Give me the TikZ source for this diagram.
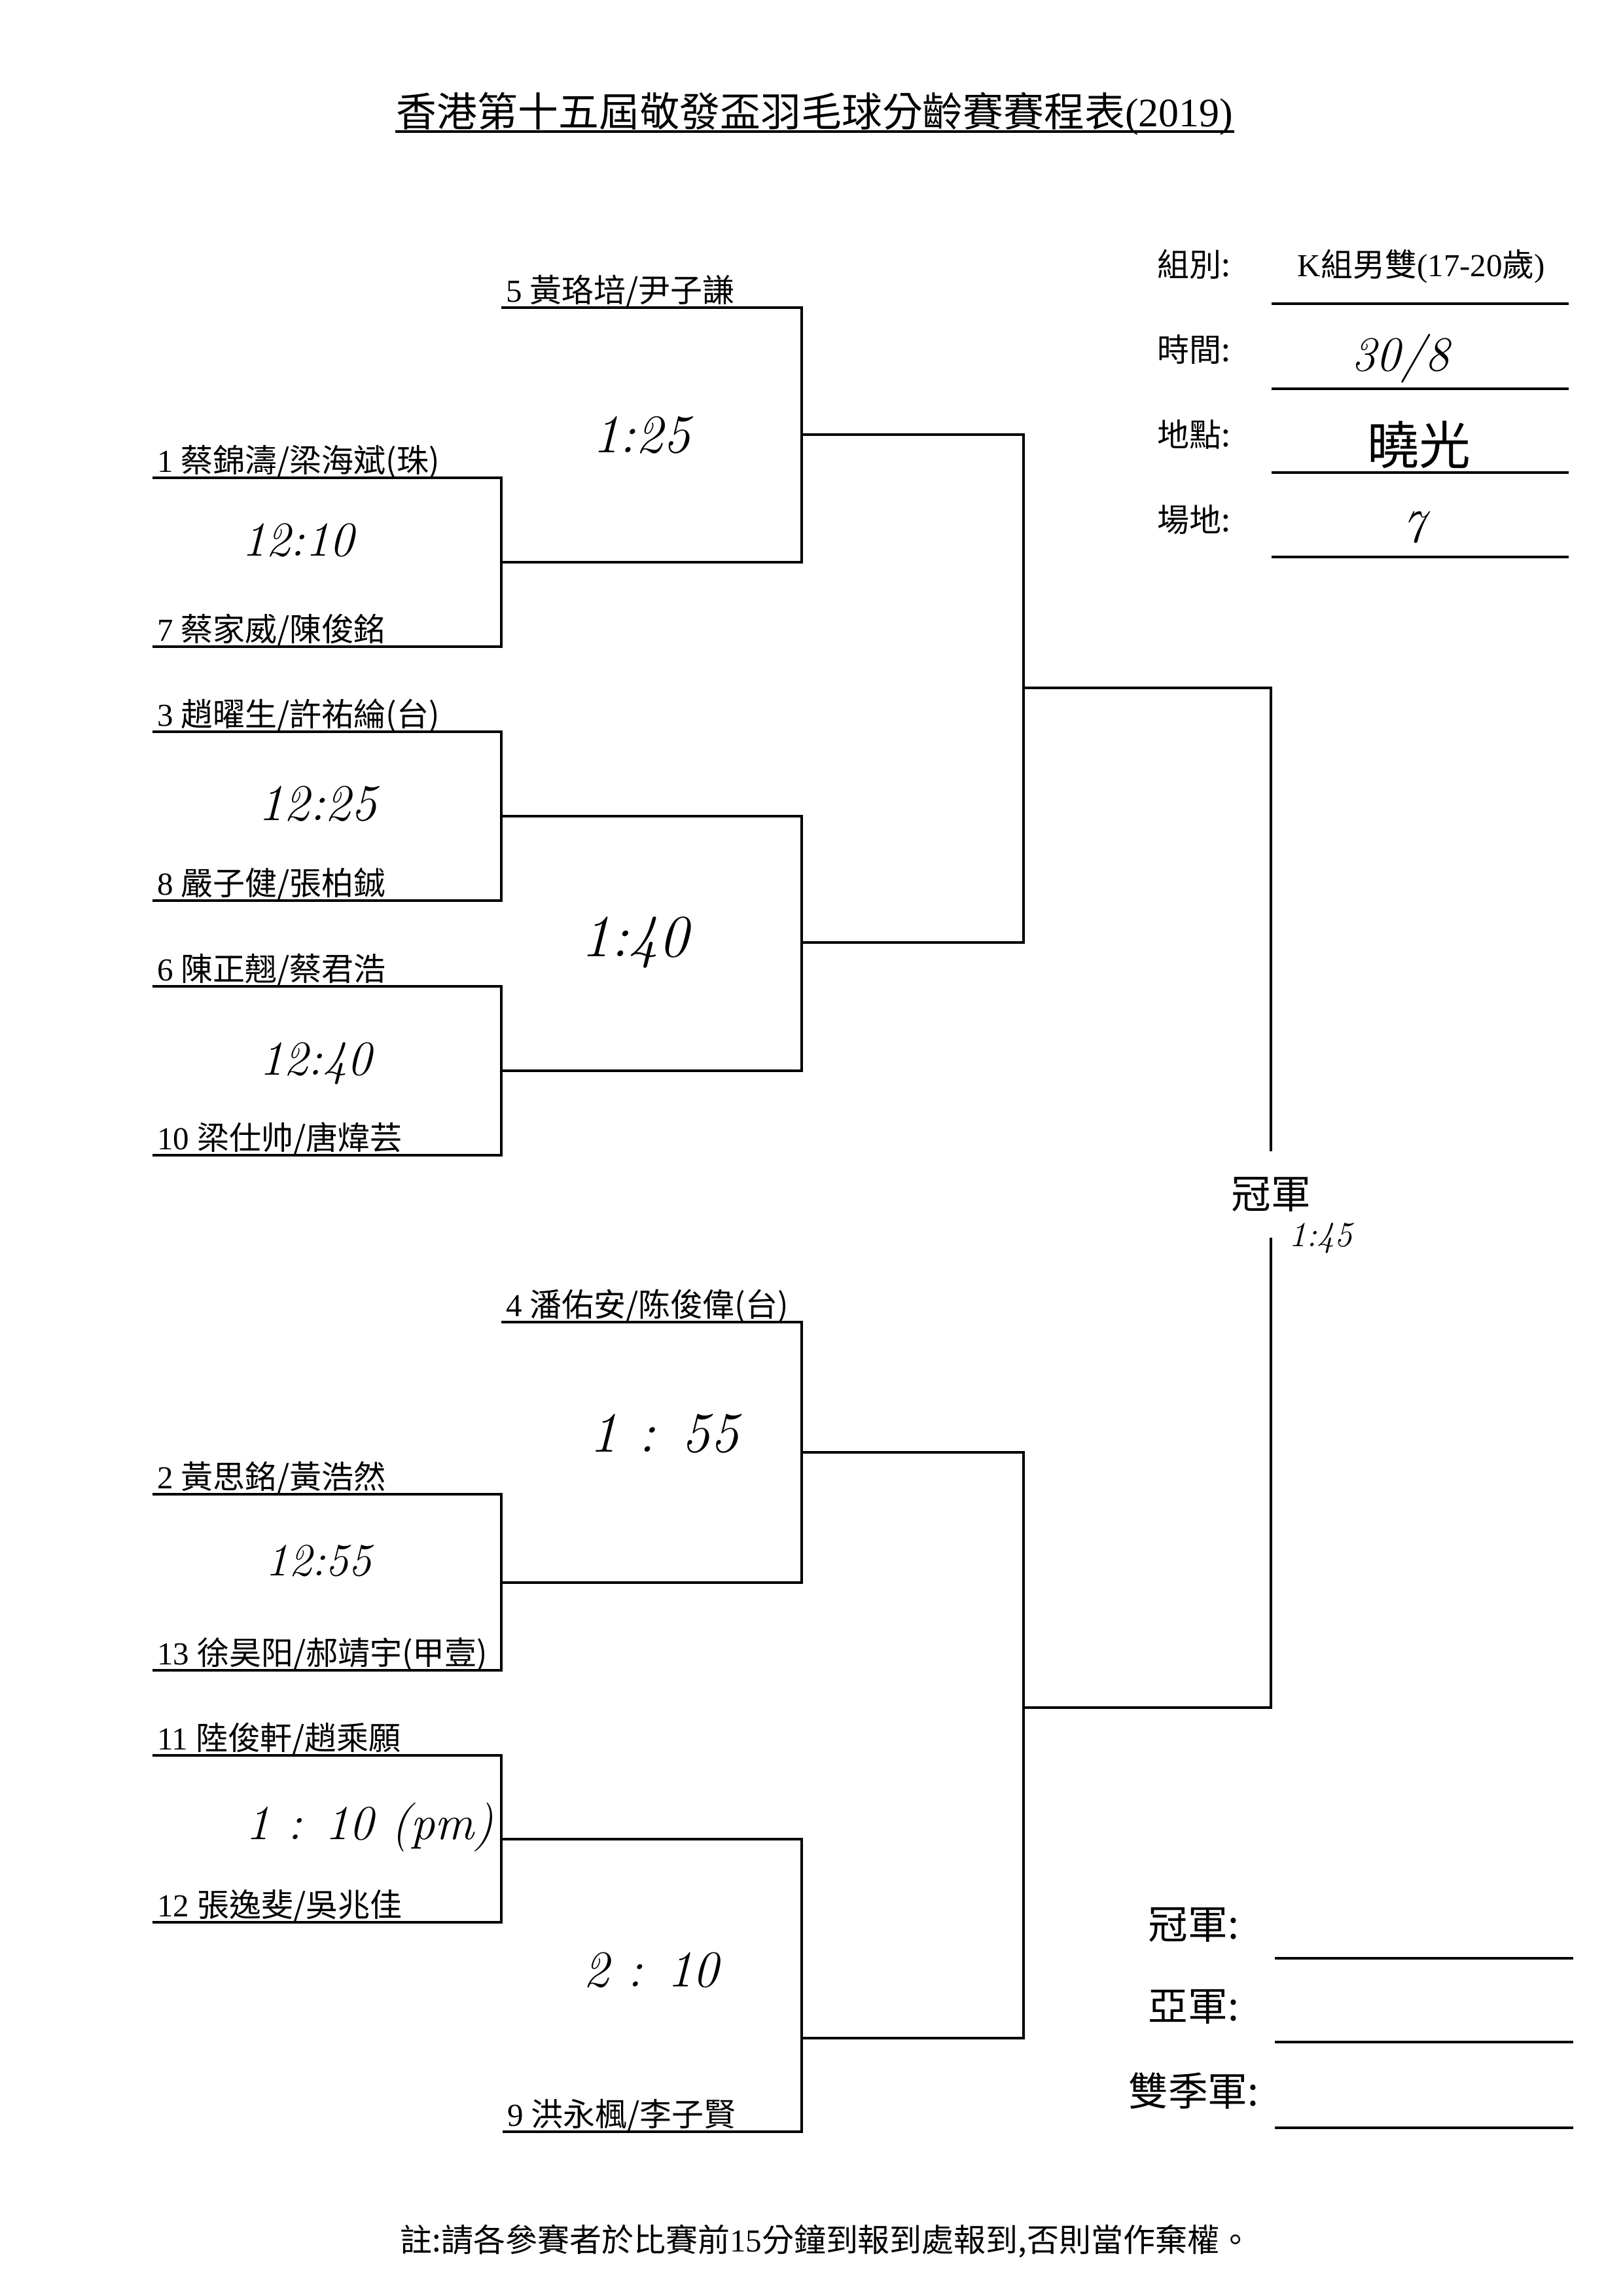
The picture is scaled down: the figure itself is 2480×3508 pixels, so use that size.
\documentclass[tikz,border=0pt]{standalone}
\usepackage{fontspec}
\setmainfont{Noto Sans CJK TC}
\newfontfamily\lat{Liberation Serif}
\newfontfamily\hand{Latin Modern Roman}[Numbers=Lining]
\begin{document}
\begin{tikzpicture}[x=0.0846667mm,y=-0.0846667mm,line width=1pt,line join=miter,
  player/.style={anchor=base west,inner sep=0pt,font=\fontsize{11.8pt}{14pt}\selectfont},
  infolab/.style={anchor=base west,inner sep=0pt,font=\fontsize{11.8pt}{14pt}\selectfont},
  prize/.style={anchor=base,inner sep=0pt,font=\fontsize{14.6pt}{17pt}\selectfont},
  hand/.style={inner sep=0pt,font=\hand\itshape\fontsize{#1}{#1}\selectfont},
  hand/.default=19pt]
\useasboundingbox (0,0) rectangle (2480,3508);
% title
\node[anchor=base,inner sep=0pt,font=\fontsize{14.9pt}{18pt}\selectfont] (title) at (1245,193) {香港第十五屆敬發盃羽毛球分齡賽賽程表{\lat (2019)}};
\coordinate (ul) at (0,201);
\draw[line width=0.8pt] (title.west |- ul) -- (title.east |- ul);
% players
\coordinate (p5) at (766,470);
\coordinate (p1) at (233,730);
\coordinate (p7) at (233,988);
\coordinate (p3) at (233,1118);
\coordinate (p8) at (233,1376);
\coordinate (p6) at (233,1507);
\coordinate (p10) at (233,1765);
\coordinate (p4) at (766,2020);
\coordinate (p2) at (233,2283);
\coordinate (p13) at (233,2552);
\coordinate (p11) at (233,2682);
\coordinate (p12) at (233,2937);
\coordinate (p9) at (768,3257);
\node[player] (n5) at (771,461) {{\lat 5 }黃珞培/尹子謙};
\node[player] (n1) at (238,721) {{\lat 1 }蔡錦濤/梁海斌(珠)};
\node[player] (n7) at (238,979) {{\lat 7 }蔡家威/陳俊銘};
\node[player] (n3) at (238,1109) {{\lat 3 }趙曜生/許祐綸(台)};
\node[player] (n8) at (238,1367) {{\lat 8 }嚴子健/張柏鋮};
\node[player] (n6) at (238,1498) {{\lat 6 }陳正翹/蔡君浩};
\node[player] (n10) at (238,1756) {{\lat 10 }梁仕帅/唐煒芸};
\node[player] (n4) at (771,2011) {{\lat 4 }潘佑安/陈俊偉(台)};
\node[player] (n2) at (238,2274) {{\lat 2 }黃思銘/黃浩然};
\node[player] (n13) at (238,2543) {{\lat 13 }徐昊阳/郝靖宇(甲壹)};
\node[player] (n11) at (238,2673) {{\lat 11 }陸俊軒/趙乘願};
\node[player] (n12) at (238,2928) {{\lat 12 }張逸斐/吳兆佳};
\node[player] (n9) at (773,3248) {{\lat 9 }洪永楓/李子賢};
% first round
\coordinate (w17) at (766,859);
\coordinate (w38) at (766,1247);
\coordinate (w610) at (766,1636);
\coordinate (w213) at (766,2418);
\coordinate (w1112) at (766,2810);
\draw (p1) -| (w17) |- (p7);
\draw (p3) -| (w38) |- (p8);
\draw (p6) -| (w610) |- (p10);
\draw (p2) -| (w213) |- (p13);
\draw (p11) -| (w1112) |- (p12);
% second round
\coordinate (r1) at (1225,664);
\coordinate (r2) at (1225,1440);
\coordinate (r3) at (1225,2219);
\coordinate (r4) at (1225,3114);
\draw (p5) -| (r1) |- (w17);
\draw (w38) -| (r2) |- (w610);
\draw (p4) -| (r3) |- (w213);
\draw (w1112) -| (r4) |- (p9);
% semi final and final
\coordinate (s1) at (1564,1051);
\coordinate (s2) at (1564,2609);
\draw (r1) -| (s1) |- (r2);
\draw (r3) -| (s2) |- (r4);
\node[inner xsep=0pt,inner ysep=9pt,font=\fontsize{14.6pt}{17pt}\selectfont] (champ) at (1942,1825) {冠軍};
\draw (s1) -| (champ.north);
\draw (champ.south) |- (s2);
% handwritten times
\node[hand=20pt] (t1) at (980,665) {1:25};
\node[hand=18pt] (t2) at (455,825) {12:10};
\node[hand] (t3) at (485,1228) {12:25};
\node[hand=22pt] (t4) at (970,1440) {1:40};
\node[hand=18pt] (t5) at (482,1625) {12:40};
\node[hand=21pt] (t6) at (1015,2190) {1 : 55};
\node[hand=17pt] (t7) at (487,2385) {12:55};
\node[hand=18pt] (t8) at (565,2792) {1 : 10 (pm)};
\node[hand] (t9) at (995,3010) {2 : 10};
\node[hand=13pt] (t10) at (2018,1892) {1:45};
% info
\node[infolab] (lgroup) at (1766,422) {組別:};
\node[infolab] (ltime) at (1766,552) {時間:};
\node[infolab] (lplace) at (1766,682) {地點:};
\node[infolab] (lcourt) at (1766,812) {場地:};
\node[infolab,anchor=base] (vgroup) at (2172,422) {{\lat K}組男雙{\lat (17-20}歲{\lat )}};
\node[hand=18pt] (vtime) at (2140,548) {30/8};
\node[inner sep=0pt,font=\fontsize{19pt}{19pt}\selectfont] (vplace) at (2168,680) {曉光};
\node[hand=17pt] (vcourt) at (2160,806) {7};
\foreach \y in {464,594,722,851}
  \draw (1943,\y) -- (2397,\y);
% results
\node[prize] (first) at (1824,2962) {冠軍:};
\node[prize] (second) at (1824,3087) {亞軍:};
\node[prize] (third) at (1824,3217) {雙季軍:};
\foreach \y in {2992,3120,3251}
  \draw (1948,\y) -- (2404,\y);
% note
\node[anchor=base,inner sep=0pt,font=\fontsize{11.8pt}{14pt}\selectfont] (note) at (1262,3440) {註:請各參賽者於比賽前{\lat 15}分鐘到報到處報到,否則當作棄權。};
\end{tikzpicture}
\end{document}
